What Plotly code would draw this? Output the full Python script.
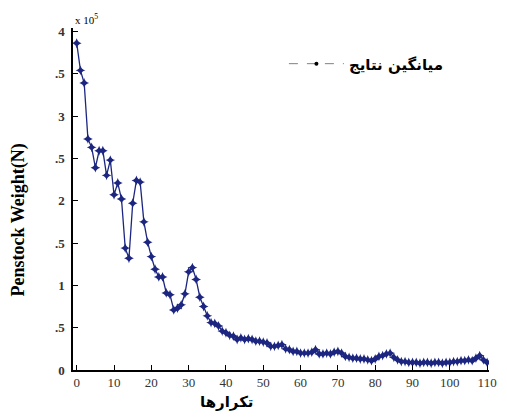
import plotly.graph_objects as go

iterations = list(range(0, 111))
weight = [
    3.86, 3.54, 3.39, 2.73, 2.63, 2.39, 2.59, 2.59, 2.30, 2.48,
    2.07, 2.21, 2.02, 1.44, 1.32, 1.97, 2.24, 2.22, 1.75, 1.51,
    1.34, 1.19, 1.10, 1.10, 0.91, 0.89, 0.71, 0.73, 0.77, 0.90,
    1.16, 1.21, 1.07, 0.86, 0.75, 0.64, 0.56, 0.55, 0.52, 0.46,
    0.44, 0.41, 0.40, 0.36, 0.38, 0.36, 0.37, 0.36, 0.34, 0.34,
    0.33, 0.32, 0.28, 0.28, 0.29, 0.30, 0.25, 0.24, 0.22, 0.22,
    0.20, 0.20, 0.20, 0.21, 0.24, 0.19, 0.19, 0.20, 0.19, 0.21,
    0.22, 0.20, 0.16, 0.15, 0.14, 0.14, 0.13, 0.13, 0.12, 0.11,
    0.13, 0.16, 0.17, 0.19, 0.20, 0.15, 0.12, 0.10, 0.10, 0.09,
    0.09, 0.09, 0.08, 0.09, 0.09, 0.08, 0.09, 0.09, 0.08, 0.09,
    0.09, 0.10, 0.10, 0.11, 0.11, 0.12, 0.11, 0.14, 0.17, 0.12,
    0.09,
]
x_ticks = [0, 10, 20, 30, 40, 50, 60, 70, 80, 90, 100, 110]
y_ticks = [0, 0.5, 1, 1.5, 2, 2.5, 3, 3.5, 4]
y_ticktext = ["0", ".5", "1", ".5", "2", ".5", "3", ".5", "4"]
legend_name = "میانگین نتایج"
x_title = "تکرارها"
y_title = "Penstock Weight(N)"

navy = "rgb(28,38,128)"
serif = "Liberation Serif"

fig = go.Figure()
fig.add_trace(go.Scatter(
    x=iterations, y=weight, mode="lines+markers",
    line=dict(color=navy, width=1.3),
    marker=dict(symbol="star-diamond", size=7, color=navy),
    showlegend=False,
))
fig.add_trace(go.Scatter(
    x=[None], y=[None], mode="lines+markers", name=legend_name,
    line=dict(color="gray", width=1, dash="dash"),
    marker=dict(symbol="circle", size=4, color="black"),
))

fig.update_layout(
    width=499, height=411,
    margin=dict(l=65, r=10, t=20, b=49),
    plot_bgcolor="white", paper_bgcolor="white",
    legend=dict(
        x=0.507, y=0.895, xanchor="left", yanchor="middle",
        bgcolor="rgba(0,0,0,0)", itemwidth=55,
        font=dict(family="DejaVu Sans", size=15, color="black", weight="bold"),
    ),
    xaxis=dict(
        range=[-1, 110.5], tickvals=x_ticks, ticks="inside", ticklen=5,
        tickcolor="black", showline=True, linecolor="black", linewidth=1.5,
        showgrid=False, zeroline=False,
        tickfont=dict(family=serif, size=13, color="#333"),
    ),
    yaxis=dict(
        range=[0, 4.04], tickvals=y_ticks, ticktext=y_ticktext, ticks="inside", ticklen=5,
        tickcolor="black", showline=True, linecolor="black", linewidth=1.5,
        showgrid=False, zeroline=False, ticklabelstandoff=4,
        tickfont=dict(family=serif, size=13, color="#333", weight="bold"),
    ),
    annotations=[
        dict(
            x=0.0, y=1.0, xref="paper", yref="paper", xanchor="left", yanchor="bottom",
            text="x 10<sup>5</sup>", showarrow=False,
            font=dict(family=serif, size=11, color="black"),
        ),
        dict(
            x=0.37, y=-0.095, xref="paper", yref="paper", xanchor="center", yanchor="middle",
            text=x_title, showarrow=False,
            font=dict(family="DejaVu Sans", size=15, color="black", weight="bold"),
        ),
        dict(
            x=-0.13, y=0.44, xref="paper", yref="paper", xanchor="center", yanchor="middle",
            text=y_title, showarrow=False, textangle=-90,
            font=dict(family=serif, size=18, color="black", weight="bold"),
        ),
    ],
)

fig.write_html("out.html")
